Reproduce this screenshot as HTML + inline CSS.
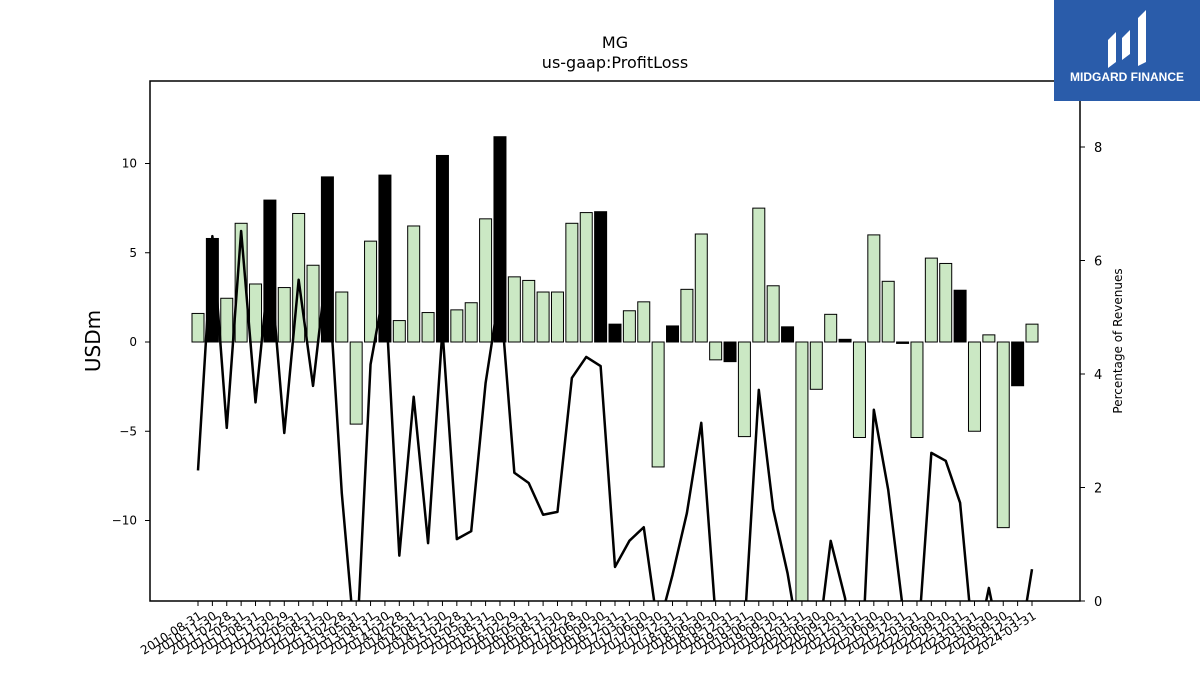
<!DOCTYPE html>
<html><head><meta charset="utf-8"><style>
html,body{margin:0;padding:0;background:#fff;width:1200px;height:675px;overflow:hidden;}
svg{display:block;font-family:"DejaVu Sans","Liberation Sans",sans-serif;}
</style></head><body>
<svg id="c" width="1200" height="675" viewBox="0 0 1200 675" xmlns="http://www.w3.org/2000/svg">
<defs><clipPath id="pc"><rect x="150" y="81" width="930" height="520"/></clipPath></defs>
<text x="615" y="48" text-anchor="middle" font-size="16">MG</text>
<text x="615" y="68" text-anchor="middle" font-size="16">us-gaap:ProfitLoss</text>
<text transform="translate(100,341) rotate(-90)" text-anchor="middle" font-size="20">USDm</text>
<text transform="translate(1122,341) rotate(-90)" text-anchor="middle" font-size="12">Percentage of Revenues</text>
<g id="bars" clip-path="url(#pc)"></g>
<g id="line" clip-path="url(#pc)"></g>
<rect x="150" y="81" width="930" height="520" fill="none" stroke="#000" stroke-width="1.5"/>
<g id="axes"></g>
<g>
<rect x="1054" y="0" width="146" height="101" fill="#2a5caa"/>
<path d="M1108 68 L1108 40 L1116 32 L1116 62 Z M1122 60 L1122 38 L1130 30 L1130 54 Z M1138 66 L1138 18 L1146 10 L1146 62 Z" fill="#fff"/>
<text x="1127" y="81" text-anchor="middle" font-size="12" font-weight="bold" fill="#fff" font-family="Liberation Sans, sans-serif">MIDGARD FINANCE</text>
</g>
</svg>
<script>
const values=[1.6,5.8,2.45,6.65,3.25,7.95,3.05,7.2,4.3,9.25,2.8,-4.6,5.65,9.35,1.2,6.5,1.65,10.45,1.8,2.2,6.9,11.5,3.65,3.45,2.8,2.8,6.65,7.25,7.3,1.0,1.75,2.25,-7.0,0.9,2.95,6.05,-1.0,-1.1,-5.3,7.5,3.15,0.85,-15,-2.65,1.55,0.15,-5.35,6.0,3.4,-0.08,-5.35,4.7,4.4,2.9,-5.0,0.4,-10.4,-2.45,1.0];
const annual=[0,1,0,0,0,1,0,0,0,1,0,0,0,1,0,0,0,1,0,0,0,1,0,0,0,0,0,0,1,1,0,0,0,1,0,0,0,1,0,0,0,1,0,0,0,1,0,0,0,1,0,0,0,1,0,0,0,1,0];
const ratio=[2.3,6.43,3.05,6.52,3.5,6.0,2.96,5.66,3.79,6.0,1.9,-1,4.17,5.57,0.8,3.6,1.02,4.78,1.09,1.23,3.84,5.48,2.26,2.08,1.52,1.57,3.93,4.3,4.14,0.6,1.06,1.3,-0.5,0.46,1.55,3.14,-0.3,-0.5,-0.5,3.72,1.62,0.49,-1,-1,1.06,0.05,-2,3.37,1.96,-0.1,-1,2.61,2.47,1.73,-1,0.23,-1,-1,0.56];
const leftTicks=[-10,-5,0,5,10];
const rightTicks=[0,2,4,6,8];
const labels=(function(){const a=[];const e=["08-31","11-30","02-28","05-31"];let y=2010;for(let i=0;i<27;i++){const m=e[i%4];if(i%4==2)y++;a.push(y+"-"+(m=="02-28"&&y%4==0?"02-29":m));}
const q=["06-30","09-30","12-31","03-31"];let yy=2016;for(let i=0;i<32;i++){if(i%4==3)yy++;a.push(yy+"-"+q[i%4]);}return a;})();
const NS="http://www.w3.org/2000/svg";
const x=i=>198+i*(1032-198)/(values.length-1);
const yL=v=>342-v*17.85;
const yR=v=>601-v*56.75;
function mk(t,a,p){const e=document.createElementNS(NS,t);for(const k in a)e.setAttribute(k,a[k]);p.appendChild(e);return e;}
const bars=document.getElementById('bars'),line=document.getElementById('line'),axes=document.getElementById('axes');
values.forEach((v,i)=>{const y0=yL(0),y1=yL(v);
const r=mk('rect',{x:x(i)-6,y:Math.min(y0,y1),width:12,height:Math.abs(y1-y0),fill:annual[i]?'#000':'#cbe8c4',stroke:'#000','stroke-width':1},bars);

});
const pl=mk('polyline',{points:ratio.map((v,i)=>x(i)+","+yR(v)).join(" "),fill:"none",stroke:"#000","stroke-width":2.5,"stroke-linejoin":"round"},line);


leftTicks.forEach(t=>{mk('line',{x1:145,x2:150,y1:yL(t),y2:yL(t),stroke:'#000'},axes);
const tx=mk('text',{x:137,y:yL(t)+4,'text-anchor':'end','font-size':12},axes);tx.textContent=t<0?"\u2212"+(-t):t;

});
rightTicks.forEach(t=>{mk('line',{x1:1080,x2:1085,y1:yR(t),y2:yR(t),stroke:'#000'},axes);
const tx=mk('text',{x:1094,y:yR(t)+5,'font-size':13},axes);tx.textContent=t;

});
labels.forEach((l,i)=>{mk('line',{x1:x(i),x2:x(i),y1:601,y2:606,stroke:'#000'},axes);
const tx=mk('text',{transform:`translate(${x(i)+5},${618}) rotate(-32)`,'text-anchor':'end','font-size':12},axes);tx.textContent=l;

});
</script>
</body></html>
